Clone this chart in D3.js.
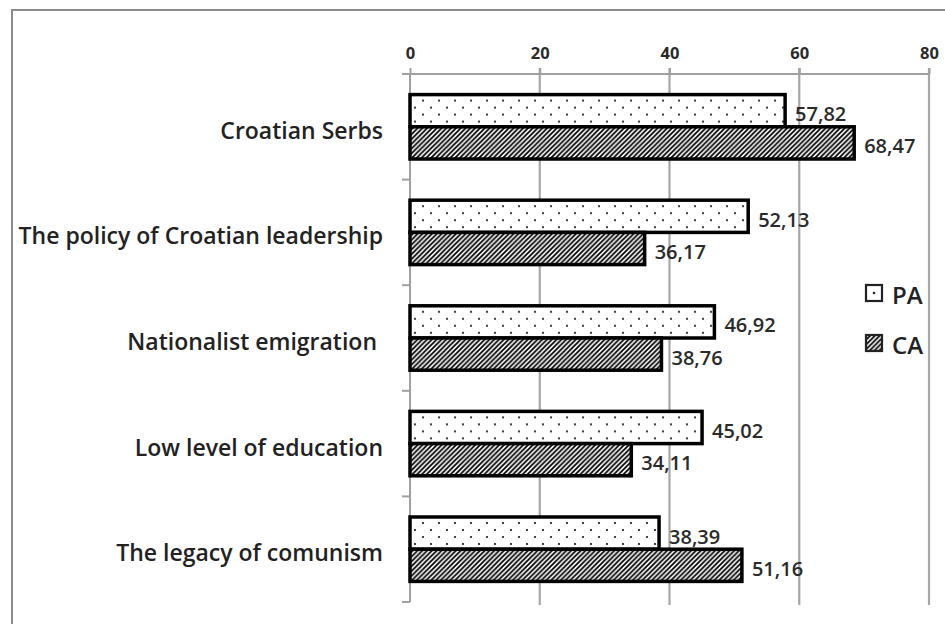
<!DOCTYPE html>
<html>
<head>
<meta charset="utf-8">
<script src="https://cdn.jsdelivr.net/npm/d3@7"></script>
<style>
  body { margin: 0; background: #fff; }
  svg { display: block; font-family: "Open Sans", sans-serif; }
</style>
</head>
<body>
<svg id="chart" width="945" height="624"></svg>
<script>
const categories = [
  "Croatian Serbs",
  "The policy of Croatian leadership",
  "Nationalist emigration ",
  "Low level of education",
  "The legacy of comunism"
];
const series = ["PA", "CA"];
const paValues = [57.82, 52.13, 46.92, 45.02, 38.39];
const caValues = [68.47, 36.17, 38.76, 34.11, 51.16];
const xTicks = [0, 20, 40, 60, 80];

const rows = categories.map((c, i) => ({ category: c, PA: paValues[i], CA: caValues[i] }));

const svg = d3.select("#chart");
const comma = d3.formatLocale({ decimal: ",", thousands: ".", grouping: [3], currency: ["", ""] }).format(".2f");

// patterns
const defs = svg.append("defs");
const dots = defs.append("pattern")
  .attr("id", "dots")
  .attr("patternUnits", "userSpaceOnUse")
  .attr("width", 16).attr("height", 14)
  .attr("x", 3).attr("y", 3);
dots.append("rect").attr("width", 16).attr("height", 14).attr("fill", "#fff");
dots.append("circle").attr("cx", 4).attr("cy", 3).attr("r", 1.1).attr("fill", "#111");
dots.append("circle").attr("cx", 12).attr("cy", 10).attr("r", 1.1).attr("fill", "#111");

const hs = 4.8;
const hatch = defs.append("pattern")
  .attr("id", "hatch")
  .attr("patternUnits", "userSpaceOnUse")
  .attr("width", hs).attr("height", hs);
hatch.append("rect").attr("width", hs).attr("height", hs).attr("fill", "#fff");
hatch.append("path")
  .attr("d", `M0,${hs} L${hs},0 M-1,1 L1,-1 M${hs - 1},${hs + 1} L${hs + 1},${hs - 1}`)
  .attr("stroke", "#000").attr("stroke-width", 1.8);

const fills = { PA: "url(#dots)", CA: "url(#hatch)" };

// outer frame
svg.append("rect")
  .attr("x", 12).attr("y", 10)
  .attr("width", 960).attr("height", 640)
  .attr("fill", "none").attr("stroke", "#8c8c8c").attr("stroke-width", 2);

const x = d3.scaleLinear().domain([0, 80]).range([410, 929]);
const y0 = d3.scaleBand().domain(categories).range([74, 602])
  .paddingInner(0.39).paddingOuter(0.195);
const y1 = d3.scaleBand().domain(series).range([0, y0.bandwidth()]);

// grid lines
svg.append("g").selectAll("line")
  .data(xTicks.filter(d => d > 0))
  .join("line")
  .attr("x1", d => x(d)).attr("x2", d => x(d))
  .attr("y1", 68).attr("y2", 605)
  .attr("stroke", "#a6a6a6").attr("stroke-width", 2.2);

// top axis
const xAxis = svg.append("g")
  .attr("transform", "translate(0,74)")
  .call(d3.axisTop(x).tickValues(xTicks).tickSize(6).tickPadding(9));
xAxis.select(".domain").attr("stroke", "#a0a0a0").attr("stroke-width", 2)
  .attr("d", `M${x(0) - 8},0H${x(80)}`);
xAxis.selectAll(".tick line").attr("stroke", "#a0a0a0").attr("stroke-width", 2);
xAxis.selectAll(".tick text")
  .attr("font-family", "Open Sans").attr("font-size", 16.5).attr("font-weight", 700)
  .attr("fill", "#2a2a2a");

// left axis
const yTicks = [74].concat(categories.map(c => y0(c) + y0.bandwidth() + y0.step() * 0.39 / 2));
svg.append("line")
  .attr("x1", x(0)).attr("x2", x(0)).attr("y1", 74).attr("y2", 602)
  .attr("stroke", "#a0a0a0").attr("stroke-width", 2);
svg.append("g").selectAll("line")
  .data(yTicks)
  .join("line")
  .attr("x1", x(0) - 8).attr("x2", x(0))
  .attr("y1", d => d).attr("y2", d => d)
  .attr("stroke", "#a0a0a0").attr("stroke-width", 2);

// category labels
svg.append("g").selectAll("text")
  .data(categories)
  .join("text")
  .attr("x", 383)
  .attr("y", d => y0(d) + y0.bandwidth() / 2 + 3)
  .attr("text-anchor", "end")
  .attr("dominant-baseline", "central")
  .style("white-space", "pre")
  .attr("font-size", 23)
  .attr("font-weight", 600)
  .attr("fill", "#222")
  .text(d => d);

// bars
const groups = svg.append("g").selectAll("g")
  .data(rows)
  .join("g")
  .attr("transform", d => `translate(0,${y0(d.category)})`);

groups.selectAll("rect")
  .data(d => series.map(s => ({ key: s, value: d[s] })))
  .join("rect")
  .attr("x", x(0))
  .attr("y", d => y1(d.key))
  .attr("width", d => x(d.value) - x(0))
  .attr("height", y1.bandwidth())
  .attr("fill", d => fills[d.key])
  .attr("stroke", "#000")
  .attr("stroke-width", 3.5);

groups.selectAll("text")
  .data(d => series.map(s => ({ key: s, value: d[s] })))
  .join("text")
  .attr("x", d => x(d.value) + 10)
  .attr("y", d => y1(d.key) + y1.bandwidth() / 2 + 3)
  .attr("dominant-baseline", "central")
  .attr("font-size", 20)
  .attr("font-weight", 600)
  .attr("fill", "#2a2a2a")
  .text(d => comma(d.value));

// legend
const legend = svg.append("g").selectAll("g")
  .data(series)
  .join("g")
  .attr("transform", (d, i) => `translate(866,${285 + i * 50})`);
legend.append("rect")
  .attr("width", 16).attr("height", 16)
  .attr("fill", d => d === "PA" ? "#fff" : fills[d])
  .attr("stroke", "#222").attr("stroke-width", 2.2);
legend.filter(d => d === "PA").append("circle")
  .attr("cx", 8).attr("cy", 8).attr("r", 1.3).attr("fill", "#222");
legend.append("text")
  .attr("x", 26).attr("y", 9)
  .attr("dominant-baseline", "central")
  .attr("font-size", 24)
  .attr("font-weight", 600)
  .attr("fill", "#222")
  .text(d => d);
</script>
</body>
</html>
